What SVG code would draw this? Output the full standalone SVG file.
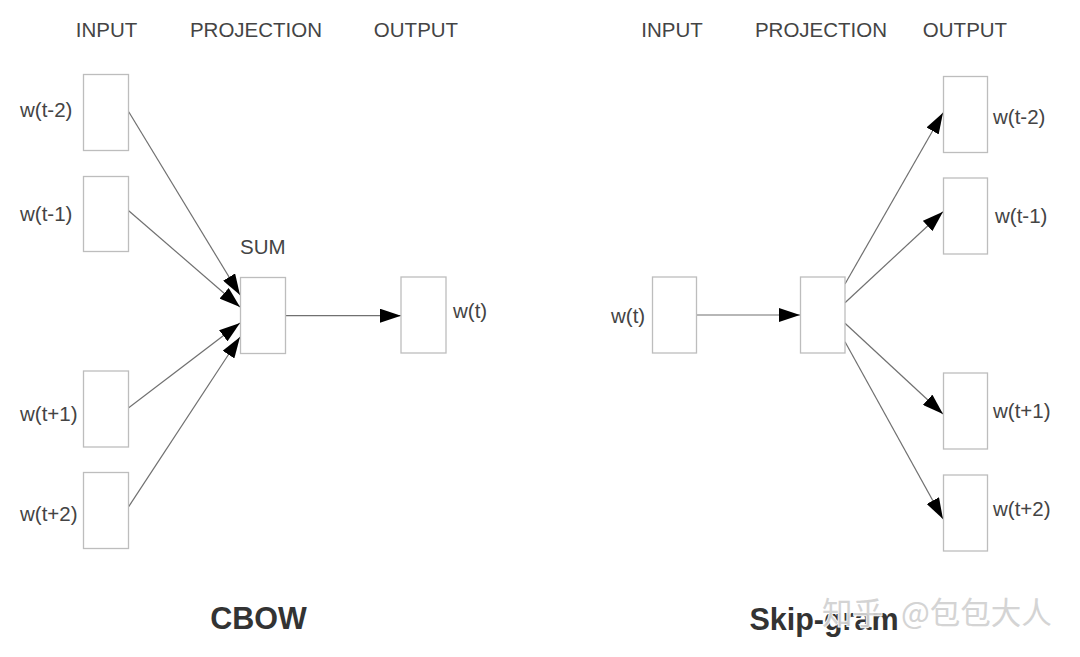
<svg xmlns="http://www.w3.org/2000/svg" width="1080" height="657" viewBox="0 0 1080 657">
  <style>
    .box { fill: #ffffff; stroke: #bdbdbd; stroke-width: 1.3; }
    .edge { stroke: #707070; stroke-width: 1.2; fill: none; marker-end: url(#arr); }
    .hdr { font-family: "Liberation Sans", Arial, sans-serif; font-size: 20.5px; fill: #444; text-anchor: middle; }
    .lbl { font-family: "Liberation Sans", Arial, sans-serif; font-size: 20.5px; fill: #444; }
    .title { font-family: "Liberation Sans", Arial, sans-serif; font-size: 30.5px; font-weight: bold; fill: #333; text-anchor: middle; }
    .wm { font-family: "Noto Sans CJK SC", "Liberation Sans", sans-serif; font-size: 30.5px; fill: #d2d2d2; stroke: #ffffff; stroke-width: 2; paint-order: stroke; opacity: 0.95; }
  </style>
  <defs>
    <marker id="arr" markerUnits="userSpaceOnUse" markerWidth="22" markerHeight="14" refX="21" refY="7" orient="auto">
      <path d="M0,0 L21,7 L0,14 z" fill="#000"/>
    </marker>
  </defs>
  <rect width="1080" height="657" fill="#ffffff"/>

  <!-- headers -->
  <g id="headers">
    <text class="hdr" x="106.5" y="37">INPUT</text>
    <text class="hdr" x="256" y="37">PROJECTION</text>
    <text class="hdr" x="416" y="37">OUTPUT</text>
    <text class="hdr" x="672" y="37">INPUT</text>
    <text class="hdr" x="821" y="37">PROJECTION</text>
    <text class="hdr" x="965" y="37">OUTPUT</text>
  </g>

  <!-- connectors -->
  <g id="connectors">
    <line class="edge" x1="128.7" y1="111.7" x2="240" y2="295"/>
    <line class="edge" x1="128.7" y1="210.7" x2="240" y2="307"/>
    <line class="edge" x1="128.7" y1="407.7" x2="240" y2="323"/>
    <line class="edge" x1="128.7" y1="506.7" x2="240" y2="337"/>
    <line class="edge" x1="285" y1="315.7" x2="401" y2="315.7"/>
    <line class="edge" x1="696.7" y1="315" x2="800" y2="315"/>
    <line class="edge" x1="845" y1="284" x2="943" y2="112.7"/>
    <line class="edge" x1="845" y1="302.7" x2="943" y2="211.7"/>
    <line class="edge" x1="845" y1="323.3" x2="943" y2="414"/>
    <line class="edge" x1="845" y1="341.7" x2="943" y2="519"/>
  </g>

  <!-- CBOW nodes -->
  <g id="cbow-in-t-2">
    <rect class="box" x="83.5" y="74.5" width="45" height="76"/>
    <text class="lbl" x="20" y="117">w(t-2)</text>
  </g>
  <g id="cbow-in-t-1">
    <rect class="box" x="83.5" y="176.5" width="45" height="75"/>
    <text class="lbl" x="20" y="221">w(t-1)</text>
  </g>
  <g id="cbow-in-t+1">
    <rect class="box" x="83.5" y="371" width="45" height="76"/>
    <text class="lbl" x="20" y="421">w(t+1)</text>
  </g>
  <g id="cbow-in-t+2">
    <rect class="box" x="83.5" y="472.5" width="45" height="76"/>
    <text class="lbl" x="20" y="521">w(t+2)</text>
  </g>
  <g id="cbow-sum">
    <rect class="box" x="240.5" y="277.5" width="45" height="76"/>
    <text class="lbl" x="240" y="254">SUM</text>
  </g>
  <g id="cbow-out">
    <rect class="box" x="401" y="277" width="45" height="76"/>
    <text class="lbl" x="453" y="318">w(t)</text>
  </g>

  <!-- Skip-gram nodes -->
  <g id="sg-in">
    <rect class="box" x="652.5" y="277" width="44" height="76"/>
    <text class="lbl" x="611" y="323">w(t)</text>
  </g>
  <g id="sg-proj">
    <rect class="box" x="800.5" y="277" width="44.5" height="76"/>
  </g>
  <g id="sg-out-t-2">
    <rect class="box" x="943.5" y="76.5" width="44" height="76"/>
    <text class="lbl" x="993" y="124">w(t-2)</text>
  </g>
  <g id="sg-out-t-1">
    <rect class="box" x="943.5" y="178" width="44" height="76"/>
    <text class="lbl" x="995" y="223">w(t-1)</text>
  </g>
  <g id="sg-out-t+1">
    <rect class="box" x="943.5" y="373" width="44" height="76"/>
    <text class="lbl" x="993" y="418">w(t+1)</text>
  </g>
  <g id="sg-out-t+2">
    <rect class="box" x="943.5" y="475" width="44" height="76"/>
    <text class="lbl" x="993" y="516">w(t+2)</text>
  </g>

  <!-- titles -->
  <g id="titles">
    <text class="title" x="258.5" y="629">CBOW</text>
    <text class="title" x="824" y="630">Skip-gram</text>
  </g>

  <!-- watermark -->
  <g id="watermark">
    <text class="wm" y="624"><tspan x="822">知乎</tspan><tspan x="901">@包包大人</tspan></text>
  </g>
</svg>
